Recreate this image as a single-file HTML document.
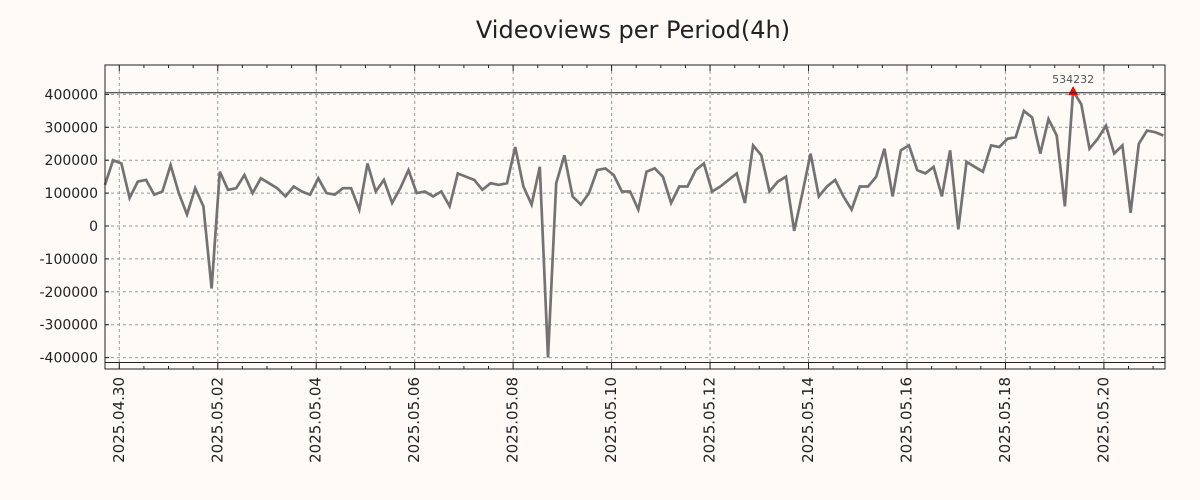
<!DOCTYPE html>
<html><head><meta charset="utf-8"><style>
body{margin:0;background:#fffaf6;}
svg{display:block;font-family:"DejaVu Sans","Liberation Sans",sans-serif;}
</style></head><body>
<svg id="chart" width="1200" height="500" viewBox="0 0 1200 500" xmlns="http://www.w3.org/2000/svg">
<rect width="1200" height="500" fill="#fffaf6"/>
<text x="633" y="38" text-anchor="middle" font-size="24" fill="#222">Videoviews per Period(4h)</text>
<g id="grid"></g>
<g id="series"></g>
<g id="axes"></g>
</svg>
<script>
const startHour = -7; // hours relative to 2025.04.30 00:00
const stepHours = 4;
const values = [125,200,190,85,135,140,95,105,185,100,35,115,60,-190,165,110,115,155,100,145,130,115,90,120,105,95,145,100,95,115,115,50,190,105,140,70,115,170,100,105,90,105,60,160,150,140,110,130,125,130,240,120,65,180,-400,130,215,90,65,100,170,175,155,105,105,50,165,175,150,70,120,120,170,190,105,120,140,160,70,245,215,105,135,150,-15,100,220,90,120,140,90,50,120,120,150,235,90,230,245,170,160,180,90,230,-10,195,180,165,245,240,265,270,350,330,220,325,275,60,410,370,235,265,305,220,245,40,250,290,285,275].map(v=>v*1000);
const yTicks = [400000,300000,200000,100000,0,-100000,-200000,-300000,-400000];
const xTickLabels = ["2025.04.30","2025.05.02","2025.05.04","2025.05.06","2025.05.08","2025.05.10","2025.05.12","2025.05.14","2025.05.16","2025.05.18","2025.05.20"];
const peakLabel = "534232";

const NS="http://www.w3.org/2000/svg";
const L=105,R=1165,T=65,B=369;
const dayPx=49.23, x0=119.3;
function xScale(h){return x0+h/24*dayPx;}
function yScale(v){return 226-v*0.000329;}
function mk(tag,attrs,parent){const e=document.createElementNS(NS,tag);for(const k in attrs)e.setAttribute(k,attrs[k]);parent.appendChild(e);return e;}
const grid=document.getElementById('grid'),axes=document.getElementById('axes'),series=document.getElementById('series');

yTicks.forEach(v=>{
  const y=yScale(v);
  const g=mk('line',{x1:L,x2:R,y1:y,y2:y,stroke:'#999','stroke-dasharray':'3,3','stroke-width':1},grid);
  
  
  const t=mk('line',{x1:L,x2:L+4,y1:y,y2:y,stroke:'#222'},axes);
  
  
  const t2=mk('line',{x1:R-4,x2:R,y1:y,y2:y,stroke:'#222'},axes);
  
  
  const lab=mk('text',{x:98,y:y+5,'text-anchor':'end','font-size':14,fill:'#222'},axes);
  lab.textContent=v;
  
  
});
xTickLabels.forEach((s,i)=>{
  const x=xScale(i*48);
  const g=mk('line',{x1:x,x2:x,y1:T,y2:B,stroke:'#999','stroke-dasharray':'3,3'},grid);
  
  
  const lab=mk('text',{x:0,y:0,'text-anchor':'end','font-size':15,fill:'#222',transform:`translate(${x+4.5},377) rotate(-90)`},axes);
  lab.textContent=s;
  
  
});
for(let h=-12;xScale(h)<=R;h+=12){
  const x=xScale(h); if(x<L) continue;
  const major=(h%48===0);
  const tk=mk('line',{x1:x,x2:x,y1:B,y2:B-(major?6:3),stroke:'#222'},axes);
  
  
  const tt=mk('line',{x1:x,x2:x,y1:T,y2:T+(major?6:3),stroke:'#222'},axes);
  
  
}
const maxV=Math.max(...values), minV=Math.min(...values);
[[maxV-5000,'max-line'],[minV-15000,'min-line']].forEach(([v,n])=>{
  const l=mk('line',{x1:L,x2:R,y1:yScale(v),y2:yScale(v),stroke:'#222','stroke-width':1},axes);
  
  
});
const frame=mk('rect',{x:L,y:T,width:R-L,height:B-T,fill:'none',stroke:'#222','stroke-width':1},axes);



const pts=values.map((v,i)=>`${xScale(startHour+i*stepHours).toFixed(1)},${yScale(v).toFixed(1)}`).join(' ');
const line=mk('polyline',{points:pts,fill:'none',stroke:'#737373','stroke-width':2.7,'stroke-linejoin':'miter'},series);



const pi=values.indexOf(maxV);
const px=xScale(startHour+pi*stepHours), py=yScale(maxV);
const m=mk('polygon',{points:`${px-5},${py+4} ${px+5},${py+4} ${px},${py-5}`,fill:'#ff0000'},series);


const pl=mk('text',{x:px,y:py-8,'text-anchor':'middle','font-size':11,fill:'#555'},series);
pl.textContent=peakLabel;


</script>
</body></html>
